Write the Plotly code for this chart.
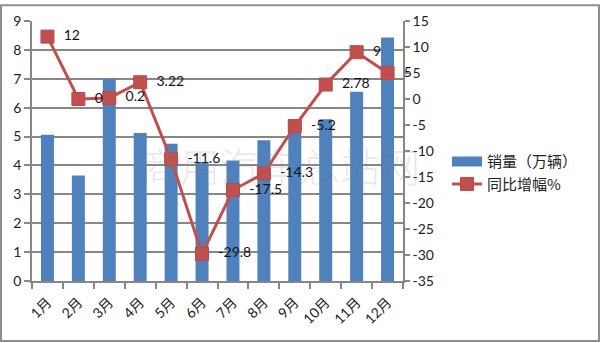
import plotly.graph_objects as go

# Monthly data
months = ["1月", "2月", "3月", "4月", "5月", "6月", "7月", "8月", "9月", "10月", "11月", "12月"]
sales = [5.06, 3.65, 7.0, 5.12, 4.75, 4.12, 4.17, 4.87, 5.56, 5.6, 6.55, 8.43]   # 销量（万辆）
growth = [12, 0, 0.2, 3.22, -11.6, -29.8, -17.5, -14.3, -5.2, 2.78, 9, 5]          # 同比增幅%
growth_labels = ["12", "0", "0.2", "3.22", "-11.6", "-29.8", "-17.5", "-14.3", "-5.2", "2.78", "9", "5"]

left_ticks = list(range(0, 10))
right_ticks = list(range(-35, 20, 5))

W, H = 600, 343
ML, MR, MT, MB = 32, 197, 17, 62
PW, PH = W - ML - MR, H - MT - MB

FONT = "Lato, 'Noto Sans CJK SC', sans-serif"
GRID = "#878787"
BLUE = "#4F81BD"
RED = "#C0504D"

fig = go.Figure()

fig.add_trace(go.Bar(
    x=months, y=sales, name="销量（万辆）",
    marker=dict(color=BLUE, line=dict(width=0)),
    width=0.42, yaxis="y", showlegend=False,
))

# legend entry for the bars, shown as a wide swatch
fig.add_trace(go.Scatter(
    x=[None], y=[None], name="销量（万辆）", mode="lines",
    line=dict(color=BLUE, width=10), yaxis="y", hoverinfo="skip",
))

fig.add_trace(go.Scatter(
    x=months, y=growth, name="同比增幅%", yaxis="y2",
    mode="lines+markers+text",
    line=dict(color=RED, width=3),
    marker=dict(symbol="square", size=13, color=RED, line=dict(color="#B9494A", width=1)),
    text=["  " + t for t in growth_labels], textposition="middle right",
    textfont=dict(family=FONT, size=14, color="#111111"),
    cliponaxis=False,
))

# faint site watermark across the plot
fig.add_annotation(
    xref="paper", yref="paper", xanchor="left", yanchor="middle",
    x=(138 - ML) / PW, y=(281 - 163) / PH,
    text="商用汽车总站网", showarrow=False,
    font=dict(family="Noto Sans CJK SC", size=40, weight=300, color="rgba(140,140,140,0.2)"),
)

# outer frame of the chart
fig.add_shape(
    type="rect", xref="paper", yref="paper",
    x0=(1 - ML) / PW, x1=(599 - ML) / PW,
    y0=(MT + PH - 342) / PH, y1=(MT + PH - 1) / PH,
    line=dict(color="#8F8F8F", width=2), fillcolor="rgba(0,0,0,0)", layer="below",
)

fig.update_layout(
    width=W, height=H,
    margin=dict(l=ML, r=MR, t=MT, b=MB),
    paper_bgcolor="white", plot_bgcolor="white",
    font=dict(family=FONT, size=14, color="#222222"),
    showlegend=True,
    legend=dict(
        x=(447 - ML) / PW, y=(281 - 171) / PH, xanchor="left", yanchor="middle",
        font=dict(family="'Noto Sans CJK SC', sans-serif", size=15, color="#222222"),
        tracegroupgap=0, itemwidth=30, bgcolor="rgba(0,0,0,0)",
    ),
    xaxis=dict(
        type="category", range=[-0.5, 11.5], tickangle=-45, tickson="boundaries",
        ticks="outside", ticklen=6, tickcolor=GRID, tickwidth=1.5,
        ticklabelstandoff=6,
        showline=True, linecolor=GRID, linewidth=1.5,
        showgrid=False, tickfont=dict(family=FONT, size=14, color="#222222"),
    ),
    yaxis=dict(
        range=[0, 9], tickvals=left_ticks, ticktext=[str(v) for v in left_ticks],
        showgrid=True, gridcolor=GRID, gridwidth=1.5,
        showline=True, linecolor=GRID, linewidth=1.5,
        ticks="outside", ticklen=6, tickcolor=GRID, tickwidth=1.5,
        zeroline=False, tickfont=dict(family=FONT, size=14, color="#222222"),
    ),
    yaxis2=dict(
        range=[-35, 15], tickvals=right_ticks, ticktext=[str(v) for v in right_ticks],
        overlaying="y", side="right", showgrid=False,
        showline=True, linecolor=GRID, linewidth=1.5,
        ticks="outside", ticklen=5, tickcolor=GRID, tickwidth=1.5,
        zeroline=False, tickfont=dict(family=FONT, size=14, color="#222222"),
    ),
)

fig.write_html("out.html")
